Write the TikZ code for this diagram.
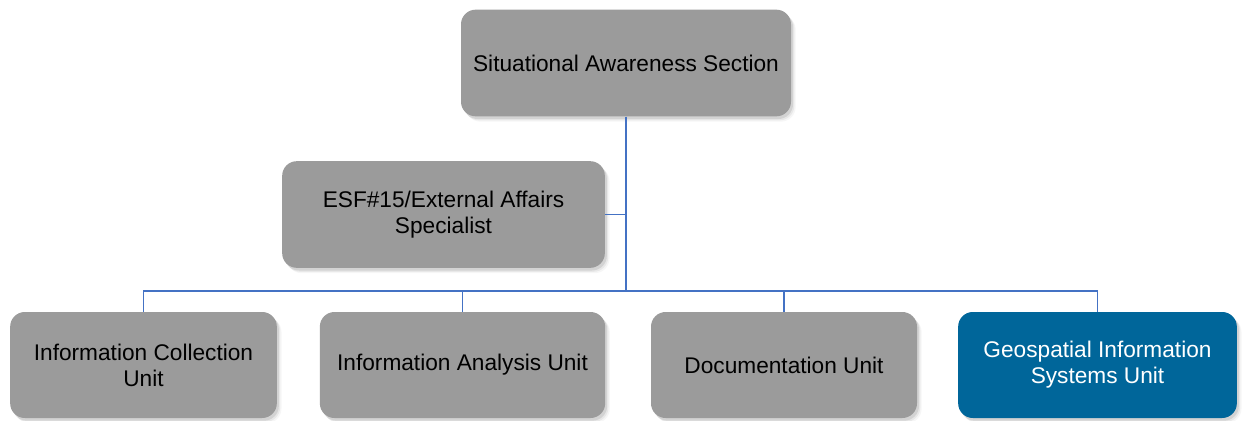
\documentclass[tikz,border=0pt]{standalone}
\usepackage{fontspec}
\setmainfont{Liberation Sans}
\usetikzlibrary{shadows}
\definecolor{boxgrey}{HTML}{9B9B9B}
\definecolor{gisblue}{HTML}{00669A}
\definecolor{linkblue}{HTML}{4472C4}
\begin{document}
\begin{tikzpicture}[x=0.75pt,y=-0.75pt,
  unit/.style={rounded corners=11pt, fill=boxgrey, align=center,
    font=\fontsize{17}{19.5}\selectfont, inner sep=0pt,
    drop shadow={shadow xshift=1.5pt,shadow yshift=-2pt,opacity=.20},
    drop shadow={shadow xshift=2.5pt,shadow yshift=-3pt,opacity=.12},
    drop shadow={shadow xshift=3.5pt,shadow yshift=-4pt,opacity=.07}},
  link/.style={draw=linkblue, line width=1.1pt},
  trunk/.style={draw=linkblue, line width=1.6pt}]
\useasboundingbox (0,0) rectangle (1243,421);

% section head and staff position
\node[unit, minimum width=247.5pt, minimum height=80pt] (top) at (626,63) {Situational Awareness Section};
\node[unit, minimum width=242pt, minimum height=80pt] (esf) at (443.5,214.5) {ESF\#15/External Affairs\\Specialist};

% units
\node[unit, minimum width=200pt, minimum height=79.5pt] (ic) at (143.5,365) {Information Collection\\Unit};
\node[unit, minimum width=214pt, minimum height=79.5pt] (ia) at (462.5,365) {Information Analysis Unit};
\node[unit, minimum width=199.5pt, minimum height=79.5pt] (doc) at (784,365) {Documentation Unit};
\node[unit, fill=gisblue, text=white, minimum width=209pt, minimum height=79.5pt] (gis) at (1097.5,365) {Geospatial Information\\Systems Unit};

% connectors
\coordinate (bus) at (626,291);
\draw[trunk] (top.south) -- (bus);
\draw[link] (esf.east) -- (esf.east -| top.south);
\draw[link] (ic.north) |- (gis.north |- bus) -- (gis.north);
\draw[link] (ia.north) -- (ia.north |- bus);
\draw[link] (doc.north) -- (doc.north |- bus);
\end{tikzpicture}
\end{document}
